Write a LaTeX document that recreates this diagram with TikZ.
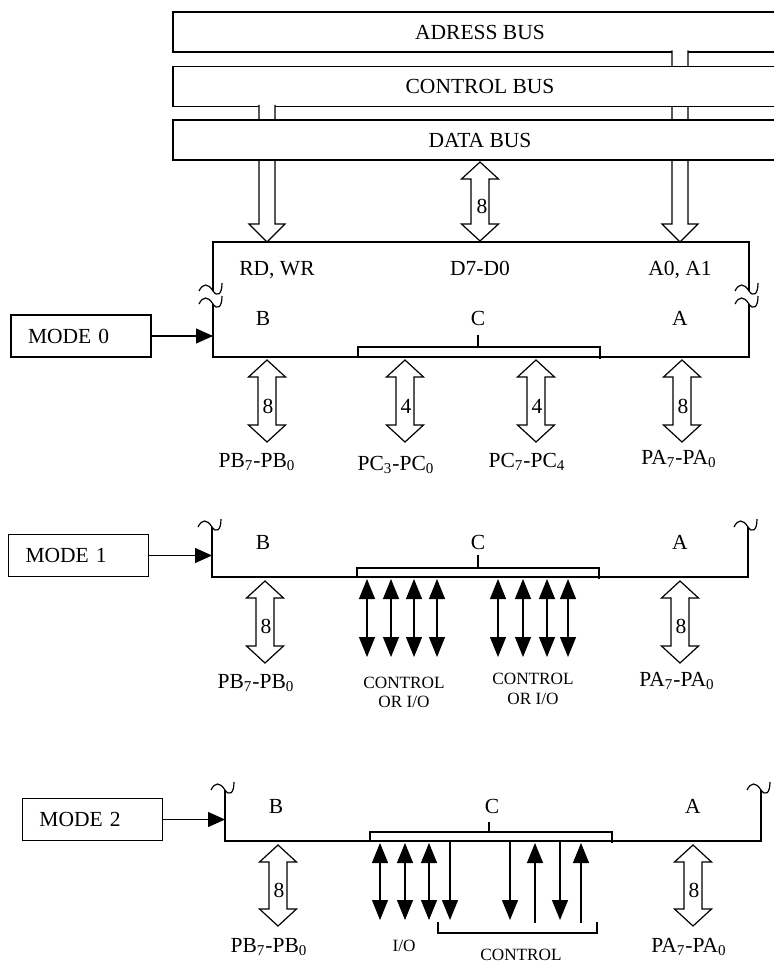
\documentclass[tikz,border=0pt]{standalone}
\usepackage{fontspec}
\setmainfont{Liberation Serif}
\usetikzlibrary{arrows.meta}

% hollow bus arrow going down: x, y of tail, y of tip
\newcommand{\busdown}[3]{%
  \filldraw[fill=white] (#1-8,#2) -- (#1-8,#3-18) -- (#1-18,#3-18) -- (#1,#3)
    -- (#1+18,#3-18) -- (#1+8,#3-18) -- (#1+8,#2);}
% hollow two-way port arrow: x, y of top tip, y of bottom tip
\newcommand{\portarrow}[3]{%
  \filldraw[fill=white] (#1-9,#2+17) -- (#1-18.5,#2+17) -- (#1,#2) -- (#1+18.5,#2+17)
    -- (#1+9,#2+17) -- (#1+9,#3-17) -- (#1+18.5,#3-17) -- (#1,#3)
    -- (#1-18.5,#3-17) -- (#1-9,#3-17) -- cycle;}
% break mark on a cut line
\newcommand{\breakmark}[2]{%
  \draw (#1-14,#2) .. controls (#1-10,#2-8) and (#1-5,#2-8) .. (#1,#2)
    .. controls (#1+4,#2+6) and (#1+9,#2+4) .. (#1+9,#2-8);}

\begin{document}
\begin{tikzpicture}[
    x=0.5pt, y=-0.5pt,
    line width=0.6pt,
    every node/.style={font=\fontsize{10.75}{13}\selectfont},
    bus/.style={draw, fill=white, minimum width=307pt, minimum height=20pt, inner sep=0pt},
    modebox/.style={draw, minimum height=21pt, inner xsep=8.5pt, inner ysep=0pt,
        text width=53pt, align=left},
    txt/.style={anchor=base, inner sep=0pt},
    small/.style={txt, font=\fontsize{8.6}{10}\selectfont},
    feed/.style={-{Triangle[length=8.5pt,width=7.5pt]}},
    bidir/.style={{Triangle[length=10pt,width=8pt]}-{Triangle[length=10pt,width=8pt]}},
    oneway/.style={-{Triangle[length=10pt,width=8pt]}}
]
\useasboundingbox (0,0) rectangle (773,963);

% busse
\node[bus] (abus) at (480,32) {ADRESS BUS};
\busdown{680}{50.5}{242}
\node[bus] (cbus) at (480,86.5) {CONTROL BUS};
\busdown{267}{105}{242}
\node[bus] (dbus) at (480,140) {DATA BUS};
\portarrow{480}{162}{241}
\node[txt] (d8) at (482,213) {8};

% mode 0
\draw (213,291) -- (213,242) -- (749,242) -- (749,291);
\draw (213,304) -- (213,357) -- (749,357) -- (749,304);
\breakmark{213}{291} \breakmark{213}{304}
\breakmark{749}{291} \breakmark{749}{304}

\node[txt] (rdwr) at (277,275) {RD, WR};
\node[txt] (d7d0) at (480,275) {D7-D0};
\node[txt] (a0a1) at (680,275) {A0, A1};
\node[txt] (portb0) at (263,325) {B};
\node[txt] (portc0) at (478,325) {C};
\node[txt] (porta0) at (680,325) {A};

\draw (358,357) -- (358,347) -- (600,347) -- (600,359);
\draw (478,347) -- (478,335);

\node[modebox] (mode0) at (81,336) {MODE 0};
\coordinate (m0in) at (213,336);
\draw[feed] (mode0.east) -- (m0in);

\portarrow{267}{360}{442}
\portarrow{405}{360}{442}
\portarrow{536}{360}{442}
\portarrow{682}{360}{442}
\node[txt] (wb0) at (268,413) {8};
\node[txt] (wcl0) at (406,413) {4};
\node[txt] (wch0) at (537,413) {4};
\node[txt] (wa0) at (683,413) {8};

\node[txt] (pb0) at (257,467) {PB\textsubscript{7}-PB\textsubscript{0}};
\node[txt] (pcl0) at (396,470) {PC\textsubscript{3}-PC\textsubscript{0}};
\node[txt] (pch0) at (527,467) {PC\textsubscript{7}-PC\textsubscript{4}};
\node[txt] (pa0) at (679,464) {PA\textsubscript{7}-PA\textsubscript{0}};

% mode 1
\draw (212,527) -- (212,577) -- (748,577) -- (748,527);
\breakmark{212}{527} \breakmark{748}{527}

\node[txt] (portb1) at (263,549) {B};
\node[txt] (portc1) at (478,549) {C};
\node[txt] (porta1) at (680,549) {A};

\draw (357,577) -- (357,568) -- (599,568) -- (599,579);
\draw (478,568) -- (478,555);

\node[modebox] (mode1) at (78.5,555.5) {MODE 1};
\coordinate (m1in) at (212,555.5);
\draw[feed] (mode1.east) -- (m1in);

\portarrow{265}{581}{663}
\portarrow{680}{581}{663}
\node[txt] (wb1) at (266,633) {8};
\node[txt] (wa1) at (681,633) {8};
\foreach \x in {367,391,414,437,498,523,547,568}
    \draw[bidir] (\x,579) -- (\x,657);

\node[txt] (pb1) at (256,688) {PB\textsubscript{7}-PB\textsubscript{0}};
\node[txt] (pa1) at (677,686) {PA\textsubscript{7}-PA\textsubscript{0}};
\node[small] (ctl1) at (404,688) {CONTROL};
\node[small] (io1) at (404,707) {OR I/O};
\node[small] (ctl2) at (533,684) {CONTROL};
\node[small] (io2) at (533,704) {OR I/O};

% mode 2
\draw (225,790) -- (225,841) -- (761,841) -- (761,790);
\breakmark{225}{790} \breakmark{761}{790}

\node[txt] (portb2) at (276,813) {B};
\node[txt] (portc2) at (492,813) {C};
\node[txt] (porta2) at (693,813) {A};

\draw (370,841) -- (370,832) -- (612,832) -- (612,843);
\draw (489,832) -- (489,822);

\node[modebox] (mode2) at (92.5,819.5) {MODE 2};
\coordinate (m2in) at (225,819.5);
\draw[feed] (mode2.east) -- (m2in);

\portarrow{278}{845}{926}
\portarrow{693}{845}{926}
\node[txt] (wb2) at (279,897) {8};
\node[txt] (wa2) at (694,897) {8};
\foreach \x in {380,405,429}
    \draw[bidir] (\x,843) -- (\x,920);
\foreach \x in {450,510,560}
    \draw[oneway] (\x,841) -- (\x,920);
\foreach \x in {535,581}
    \draw[oneway] (\x,923) -- (\x,843);
\draw (438,922) -- (438,933) -- (597,933) -- (597,922);

\node[txt] (pb2) at (269,952) {PB\textsubscript{7}-PB\textsubscript{0}};
\node[txt] (pa2) at (689,952) {PA\textsubscript{7}-PA\textsubscript{0}};
\node[small] (io3) at (404,951) {I/O};
\node[small] (ctl3) at (521,960) {CONTROL};

\end{tikzpicture}
\end{document}
